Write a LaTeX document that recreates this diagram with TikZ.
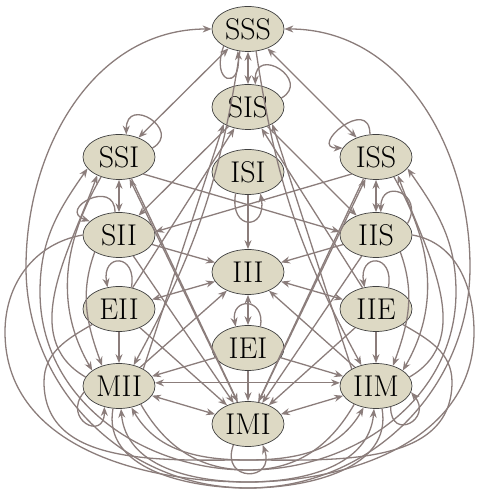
\documentclass[tikz,border=0pt]{standalone}
\usetikzlibrary{arrows.meta,shapes.geometric}
\definecolor{fondo}{RGB}{221,217,196}
\definecolor{linea}{RGB}{139,125,123}
\begin{document}
\begin{tikzpicture}[x=1pt,y=1pt,
        estado/.style={ellipse, draw=black!75, line width=0.7pt, fill=fondo, minimum width=72pt, minimum height=45pt, inner sep=0pt, font=\fontsize{30}{32}\selectfont},
        flecha/.style={-{Stealth[length=9pt,width=7pt]}, line width=1.3pt, linea},
        doble/.style={{Stealth[length=9pt,width=7pt]}-{Stealth[length=9pt,width=7pt]}, line width=1.3pt, linea}]
    \useasboundingbox (0,0) rectangle (479,492);
    % columna central
    \node[estado] (SSS) at (248,463) {SSS};
    \node[estado] (SIS) at (248,385) {SIS};
    \node[estado] (ISI) at (248,320) {ISI};
    \node[estado] (III) at (248,220) {III};
    \node[estado] (IEI) at (248,144) {IEI};
    \node[estado] (IMI) at (248,68)  {IMI};
    % columna izquierda
    \node[estado] (SSI) at (119,335) {SSI};
    \node[estado] (SII) at (119,257) {SII};
    \node[estado] (EII) at (119,183) {EII};
    \node[estado] (MII) at (119,106) {MII};
    % columna derecha
    \node[estado] (ISS) at (376,335) {ISS};
    \node[estado] (IIS) at (376,257) {IIS};
    \node[estado] (IIE) at (376,183) {IIE};
    \node[estado] (IIM) at (376,106) {IIM};
    % lazos
    \draw[flecha] (SSS.215) .. controls +(250:40) and +(275:40) .. (SSS.245);
    \draw[flecha] (SIS.15) .. controls +(30:35) and +(90:40) .. (SIS.72);
    \draw[flecha] (SSI.15) .. controls +(30:35) and +(90:40) .. (SSI.72);
    \draw[flecha] (ISS.105) .. controls +(90:40) and +(180:35) .. (ISS.165);
    \draw[flecha] (SII.100) .. controls +(90:35) and +(160:35) .. (SII.155);
    \draw[flecha] (IIS.20) .. controls +(60:35) and +(90:35) .. (IIS.78);
    \draw[flecha] (EII.60) .. controls +(80:35) and +(100:35) .. (EII.118);
    \draw[flecha] (IIE.60) .. controls +(80:35) and +(100:35) .. (IIE.118);
    \draw[flecha] (ISI.240) .. controls +(260:38) and +(280:38) .. (ISI.300);
    \draw[flecha] (IEI.60) .. controls +(80:30) and +(100:30) .. (IEI.120);
    \draw[flecha] (IMI.235) .. controls +(250:40) and +(290:40) .. (IMI.305);
    \draw[flecha] (MII.190) .. controls +(230:35) and +(270:35) .. (MII.235);
    \draw[flecha] (IIM.305) .. controls +(270:35) and +(310:35) .. (IIM.350);
    % verticales
    \draw[doble] (SSS) -- (SIS);
    \draw[flecha] (ISI) -- (III);
    \draw[doble] (III) -- (IEI);
    \draw[flecha] (IEI) -- (IMI);
    \draw[doble] (SSS) -- (SSI);
    \draw[doble] (SSS) -- (ISS);
    \draw[doble] (SSI) -- (SII);
    \draw[doble] (ISS) -- (IIS);
    \draw[flecha] (EII) -- (MII);
    \draw[flecha] (IIE) -- (IIM);
    % fila de abajo
    \draw[doble] (MII.5) -- (IIM.175);
    \draw[doble] (MII) -- (IMI);
    \draw[doble] (IIM) -- (IMI);
    % cruces del centro
    \draw[flecha] (SIS) -- (SII);
    \draw[flecha] (SIS) -- (IIS);
    \draw[flecha] (EII) -- (SIS);
    \draw[flecha] (IIE) -- (SIS);
    \draw[flecha] (MII.35) -- (SIS.215);
    \draw[flecha] (IIM.145) -- (SIS.325);
    \draw[flecha] (IMI) -- (SSI);
    \draw[flecha] (IMI) -- (ISS);
    \draw[flecha] (SSI.300) -- (IMI.115);
    \draw[flecha] (ISS.240) -- (IMI.65);
    \draw[flecha] (SSI.325) -- (IIS.175);
    \draw[flecha] (ISS.215) -- (SII.5);
    \draw[flecha] (SII) -- (III);
    \draw[flecha] (IIS) -- (III);
    \draw[doble] (EII) -- (III);
    \draw[doble] (IIE) -- (III);
    \draw[flecha] (MII) -- (III);
    \draw[flecha] (IIM) -- (III);
    \draw[flecha] (IEI) -- (MII);
    \draw[flecha] (IEI) -- (IIM);
    \draw[flecha] (EII) -- (IMI);
    \draw[flecha] (IIE) -- (IMI);
    \draw[flecha] (SII) -- (IMI);
    \draw[flecha] (IIS) -- (IMI);
    \draw[flecha] (SSS.250) to[bend left=10] (MII.55);
    \draw[flecha] (SSS.290) to[bend right=10] (IIM.125);
    % arcos por fuera
    \draw[flecha] (IIM.285) to[out=280,in=0] (248,4) to[out=180,in=270] (26,225) to[out=90,in=180] (SSS.west);
    \draw[flecha] (MII.255) to[out=260,in=180] (248,4) to[out=0,in=270] (470,225) to[out=90,in=0] (SSS.east);
    \draw[flecha] (IIM.220) to[out=240,in=0] (248,22) to[out=180,in=270] (40,200) to[out=90,in=235] (SSI.200);
    \draw[flecha] (MII.320) to[out=300,in=180] (248,22) to[out=0,in=270] (456,200) to[out=90,in=305] (ISS.340);
    \draw[flecha] (MII.165) to[out=150,in=250] (SSI.220);
    \draw[flecha] (IIM.15) to[out=30,in=290] (ISS.320);
    \draw[flecha] (SII.west) to[out=190,in=90] (5,160) to[out=270,in=180] (248,10) to[out=0,in=265] (IIM.265);
    \draw[flecha] (IIS.east) to[out=350,in=90] (474,160) to[out=270,in=0] (248,10) to[out=180,in=275] (MII.275);
    \draw[flecha] (EII.210) to[out=210,in=90] (44,110) to[out=270,in=180] (248,32) to[out=0,in=240] (IIM.240);
    \draw[flecha] (IIE.330) to[out=330,in=90] (452,110) to[out=270,in=0] (248,32) to[out=180,in=300] (MII.300);
    \draw[flecha] (SSI.228) to[out=240,in=120] (MII.150);
    \draw[flecha] (ISS.312) to[out=300,in=60] (IIM.30);
    \draw[flecha] (SII.215) to[out=250,in=110] (MII.130);
    \draw[flecha] (IIS.325) to[out=290,in=70] (IIM.50);
\end{tikzpicture}
\end{document}
